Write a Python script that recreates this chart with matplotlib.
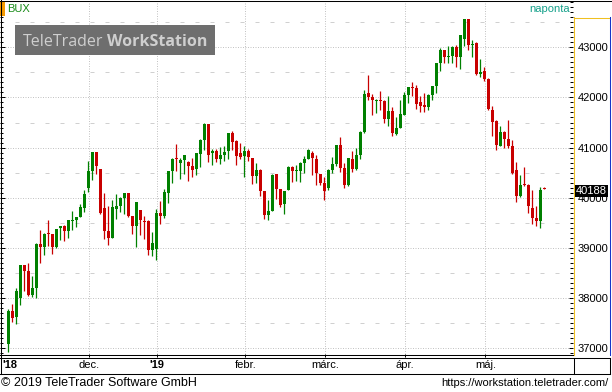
import matplotlib
matplotlib.use("Agg")
import matplotlib.pyplot as plt
from matplotlib.lines import Line2D
from matplotlib.patches import Rectangle
from matplotlib.ticker import MultipleLocator
from matplotlib.transforms import blended_transform_factory, offset_copy

plt.rcParams['font.family'] = ['Liberation Sans', 'DejaVu Sans']

# BUX napi gyertyák (2018 nov. - 2019 máj.)
opens = [37090, 37740, 37630, 38010, 38660, 38540, 38060, 38200, 39080, 39020,
         39300, 39280, 39020, 39400, 39440, 39340, 39540, 39560, 39620, 39800,
         40200, 40540, 40920, 40580, 39800, 39340, 39200, 39780, 39840, 40000,
         40100, 39640, 39440, 39760, 39540, 39540, 38960, 38980, 39700, 39640,
         40100, 40540, 40790, 40700, 40760, 40720, 40640, 40580, 40880, 41160,
         41480, 40900, 40940, 40780, 40860, 40940, 41300, 41140, 40900, 40840,
         40940, 40800, 40440, 40560, 40140, 39660, 39740, 40480, 40180, 39880,
         40160, 40620, 40540, 40540, 40700, 40780, 40900, 40780, 40480, 40300,
         40200, 40560, 40680, 41060, 40600, 40260, 40780, 40580, 40860, 41320,
         42080, 42000, 41940, 41940, 41920, 41580, 41720, 41280, 41400, 41640,
         42040, 42200, 42180, 41900, 41840, 41800, 42040, 42220, 42680, 42940,
         42810, 42820, 43000, 42800, 43160, 43560, 43040, 43080, 42460, 42520,
         42360, 41740, 41540, 41040, 41320, 41180, 41040, 40560, 40040, 40280,
         40260, 39800, 39600, 39540, 40200]
highs = [37790, 37890, 38200, 38660, 38660, 38700, 38440, 39100, 39360, 39300,
         39560, 39280, 39380, 39440, 39460, 39560, 39740, 39620, 39880, 40160,
         40740, 40920, 40920, 40580, 40100, 39840, 39960, 40080, 40020, 40100,
         40100, 39640, 39920, 39760, 39640, 39560, 39320, 39780, 39940, 40180,
         40540, 40800, 41080, 40800, 40860, 40740, 40800, 40900, 41180, 41500,
         41480, 40980, 40980, 41020, 41040, 41300, 41340, 41160, 41100, 41040,
         40980, 40800, 40700, 40580, 40140, 39960, 40480, 40480, 40180, 40140,
         40640, 40640, 40660, 40720, 40840, 40980, 40940, 40860, 40480, 40420,
         40580, 40820, 41060, 41220, 40700, 40800, 40940, 41000, 41340, 42140,
         42440, 42060, 41960, 42120, 41940, 42020, 41800, 41600, 41940, 42100,
         42200, 42300, 42240, 42020, 42080, 42060, 42220, 42680, 42980, 42940,
         43020, 43020, 43040, 43240, 43560, 43560, 43140, 43100, 42760, 42600,
         42380, 41820, 41560, 41440, 41340, 41560, 41160, 40720, 40460, 40620,
         40280, 40160, 39840, 40220, 40220]
lows = [36930, 37520, 37480, 37870, 38140, 38040, 38020, 38000, 38700, 38860,
        39040, 38880, 39000, 39160, 39140, 39200, 39360, 39420, 39620, 39720,
        40120, 40360, 40480, 39680, 39180, 39060, 39200, 39580, 39720, 39680,
        39620, 39280, 39020, 39260, 39180, 38860, 38840, 38760, 39480, 39590,
        39900, 40300, 40540, 40380, 40480, 40340, 40420, 40460, 40620, 40960,
        40720, 40660, 40720, 40680, 40740, 40780, 40960, 40660, 40780, 40420,
        40740, 40280, 40300, 40040, 39580, 39560, 39740, 39980, 39820, 39680,
        40160, 40310, 40340, 40320, 40500, 40780, 40460, 40260, 40260, 39960,
        40160, 40500, 40640, 40520, 40200, 40240, 40520, 40560, 40780, 41300,
        41940, 41640, 41680, 41740, 41500, 41440, 41240, 41260, 41400, 41640,
        41880, 42020, 41760, 41700, 41700, 41740, 41940, 42080, 42520, 42680,
        42680, 42680, 42600, 42560, 43020, 42940, 42800, 42440, 42400, 42320,
        41740, 41240, 40960, 41040, 41000, 41000, 40480, 39920, 40020, 40240,
        39700, 39480, 39440, 39400, 40170]
closes = [37740, 37610, 38140, 38660, 38540, 38060, 38200, 39080, 39020, 39280,
          39280, 39020, 39380, 39440, 39340, 39560, 39560, 39620, 39820, 40080,
          40540, 40920, 40640, 39700, 39340, 39200, 39820, 39840, 40000, 40100,
          39640, 39440, 39920, 39560, 39520, 38960, 39100, 39700, 39640, 40120,
          40540, 40780, 40770, 40760, 40860, 40640, 40560, 40900, 41160, 41480,
          40860, 40940, 40780, 40860, 40920, 41300, 41120, 40840, 40820, 40940,
          40820, 40440, 40560, 40140, 39660, 39740, 40460, 40180, 39860, 40140,
          40620, 40530, 40560, 40700, 40780, 40960, 40800, 40500, 40300, 40140,
          40560, 40680, 41060, 40600, 40260, 40800, 40580, 40860, 41320, 42060,
          42000, 41940, 41950, 41920, 41580, 41720, 41300, 41400, 41660, 42040,
          42200, 42180, 41860, 41820, 41800, 42040, 42220, 42680, 42940, 42800,
          42820, 43000, 42800, 43240, 43560, 43040, 43060, 42460, 42500, 42360,
          41760, 41520, 41060, 41320, 41180, 41040, 40500, 40040, 40260, 40260,
          39840, 39600, 39540, 40160, 40188]

# hónapkezdő napok indexe és feliratai
month_start = [0, 21, 38, 60, 80, 100, 120]
month_labels = ["'18", "dec.", "'19", "febr.", "márc.", "ápr.", "máj."]
month_bold = [True, False, True, False, False, False, False]

W, H = 612, 392
def fx(px):
    return px / W
def fy(py):
    return 1 - py / H

fig = plt.figure(figsize=(W / 100, H / 100), dpi=100)
ax = fig.add_axes([0, fy(354), fx(573), 354 / H])
ax.set_xlim(-2.075, 141.175)
ax.set_ylim(36890, 43940)
for s in ax.spines.values():
    s.set_visible(False)

# rács
for v in range(37000, 44000, 1000):
    ax.axhline(v, color='#c4c4c4', lw=0.72, ls=(0, (1, 1.5)), zorder=0)
for v in range(37500, 44000, 1000):
    ax.axhline(v, color='#d0d0d0', lw=0.72, ls=(0, (4, 11)), zorder=0)
month_pos = [m - 0.75 for m in month_start]
for p in month_pos[1:]:
    ax.axvline(p, color='#c4c4c4', lw=0.72, ls=(0, (1, 1.5)), zorder=0)

# gyertyák
idx = list(range(len(closes)))
cols = ['#008000' if c >= o else '#c80000' for o, c in zip(opens, closes)]
ax.vlines(idx, lows, highs, colors=cols, lw=0.9, zorder=2)
minh = 22
bott, hts = [], []
for o, c in zip(opens, closes):
    h = abs(c - o)
    b = min(o, c)
    if h < minh:
        b -= (minh - h) / 2
        h = minh
    bott.append(b)
    hts.append(h)
ax.bar(idx, hts, bottom=bott, width=0.8, color=cols, lw=0, zorder=3)

# y tengely
ax.yaxis.set_major_locator(MultipleLocator(1000))
ax.yaxis.set_minor_locator(MultipleLocator(100))
ax.tick_params(axis='y', which='both', left=True, right=True, direction='in',
               labelleft=False, labelright=True, width=0.72, color='black')
ax.tick_params(axis='y', which='major', length=4.5 * 0.72, pad=5 * 0.72, labelsize=8)
ax.tick_params(axis='y', which='minor', length=3 * 0.72)
ax.set_xticks(month_pos[1:])
ax.set_xticklabels([])
ax.tick_params(axis='x', direction='out', length=3 * 0.72, width=0.72)

# hónapfeliratok
tr = blended_transform_factory(ax.transData, fig.transFigure)
for i, (p, lab, bold) in enumerate(zip(month_pos, month_labels, month_bold)):
    w = 'bold' if bold else 'normal'
    if i == 0:
        fig.text(fx(2), fy(365), lab, ha='left', va='center', fontsize=8, fontweight=w)
    else:
        ax.text(p, fy(365), lab, transform=tr, ha='center', va='center',
                fontsize=8, fontweight=w, clip_on=False)

# keretvonalak
def line(xs, ys, color='black'):
    fig.add_artist(Line2D([fx(v) for v in xs], [fy(v) for v in ys],
                          color=color, lw=0.75, transform=fig.transFigure))

line([0, 611], [0.5, 0.5])
line([0.5, 0.5], [0, 373.5])
line([0, 573.5], [354.5, 354.5])
line([0, 610], [357.5, 357.5])
line([0, 610], [373.5, 373.5])
line([573.5, 573.5], [357.5, 373.5])
line([609.5, 609.5], [357.5, 373.5])
line([573.5, 573.5], [17, 355], '#f0c020')
line([573.5, 610], [17.5, 17.5], '#f0c020')
line([609.5, 609.5], [17, 355], '#1535c8')

# felső feliratok
fig.add_artist(Rectangle((0, fy(16)), fx(5), 14 / H, transform=fig.transFigure,
                         fc='#f59a00', ec='none'))
fig.text(fx(7), fy(9), "BUX", color='#168a16', fontsize=8, va='center', ha='left')
fig.text(fx(570), fy(9), "naponta", color='#14a08a', fontsize=8, va='center', ha='right')

# vízjel
fig.add_artist(Rectangle((fx(15), fy(55)), fx(200), 30 / H, transform=fig.transFigure,
                         fc='#6e6e6e', ec='none', zorder=5))
fig.text(fx(23), fy(45.7), "TeleTrader", color='#cfcfcf', fontsize=11.5,
         family='Open Sans', va='baseline', ha='left', zorder=6)
fig.text(fx(107), fy(45.7), "WorkStation", color='#cfcfcf', fontsize=11.5,
         family='Open Sans', fontweight='bold', va='baseline', ha='left', zorder=6)

# utolsó ár címke
tl = offset_copy(blended_transform_factory(fig.transFigure, ax.transData), fig=fig,
                 y=-2.5, units='dots')
fig.text(fx(591.5), closes[-1], f"{closes[-1]:.0f}", transform=tl, color='white',
         fontsize=8, ha='center', va='center', zorder=7,
         bbox=dict(boxstyle='square,pad=0.12', fc='black', ec='none'))

# lábléc
fig.text(fx(1), fy(383), "© 2019 TeleTrader Software GmbH", fontsize=9, ha='left', va='center')
fig.text(fx(609), fy(383), "https://workstation.teletrader.com/", fontsize=8,
         ha='right', va='center')

fig.savefig("out.png", dpi=100)
